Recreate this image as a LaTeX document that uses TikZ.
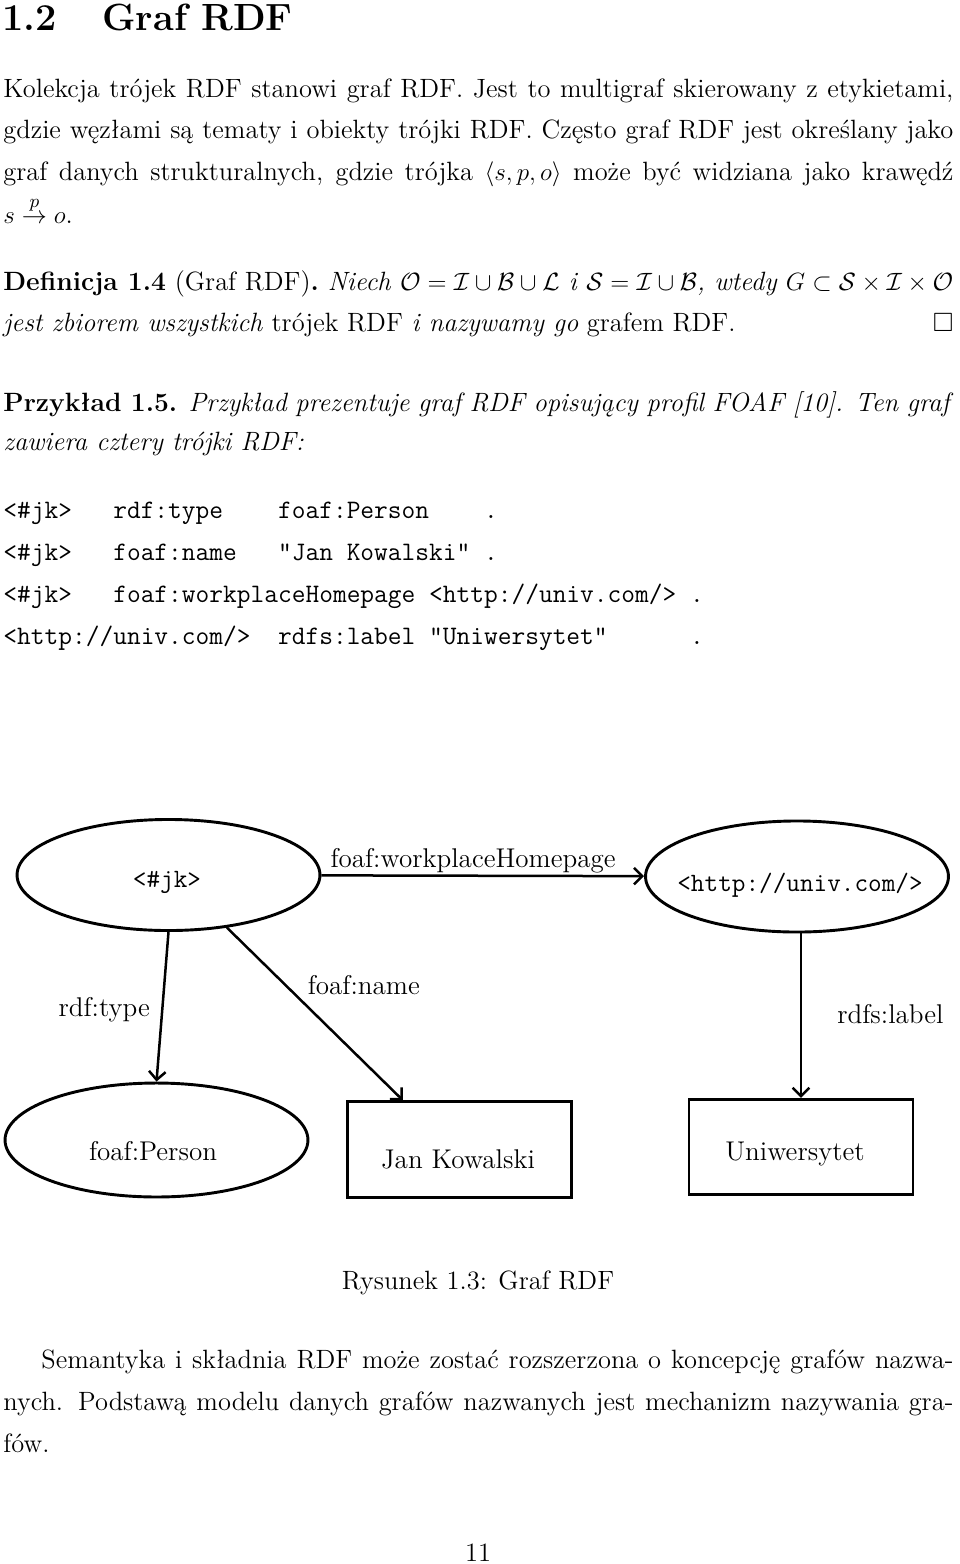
\documentclass[tikz,border=0pt]{standalone}
\usepackage{fontspec}
\usepackage{amssymb}
\usetikzlibrary{shapes.geometric,arrows.meta}

% one justified line of the text block
\newcommand{\jline}[1]{\makebox[456pt][s]{#1}}

\tikzset{
	txt/.style={anchor=base west, inner sep=0pt},
	ctr/.style={anchor=base, inner sep=0pt},
	code/.style={txt, font=\fontsize{12.8}{15}\selectfont\ttfamily},
	uri/.style={font=\fontsize{12.7}{15}\selectfont\ttfamily},
	lab/.style={font=\fontsize{13}{15}\selectfont},
	res/.style={ellipse, draw, line width=1.4pt, minimum width=145.4pt, minimum height=53.3pt, inner sep=0pt},
	lit/.style={rectangle, draw, line width=1.4pt, minimum width=107.5pt, minimum height=45.8pt, inner sep=0pt},
	pred/.style={-{Straight Barb[length=4pt,width=8pt]}, line width=1.2pt},
}

\begin{document}
\begin{tikzpicture}[x=0.48pt,y=-0.48pt,font=\fontsize{12.7}{15.3}\selectfont]
	\path[fill=white] (0,0) rectangle (960,1564);
	
	% heading
	\node[txt, font=\fontsize{18.2}{22}\selectfont\bfseries] (secN) at (2,30) {1.2};
	\node[txt, font=\fontsize{18.2}{22}\selectfont\bfseries] (secT) at (102,30) {Graf RDF};
	
	% first paragraph
	\node[txt] (kol1) at (3,97) {\jline{Kolekcja trójek RDF stanowi graf RDF. Jest to multigraf skierowany z etykietami,}};
	\node[txt] (kol2) at (3,138) {\jline{gdzie węzłami są tematy i obiekty trójki RDF. Często graf RDF jest określany jako}};
	\node[txt] (kol3) at (3,180) {\jline{graf danych strukturalnych, gdzie trójka $\langle s, p, o\rangle$ może być widziana jako krawędź}};
	\node[txt] (kol4) at (3,223) {\smash{$s \stackrel{p}{\to} o$.}};
	
	% definition
	\node[txt] (def1) at (3,290) {\jline{\textbf{Definicja 1.4} (Graf RDF)\textbf{.} \textit{Niech $\mathcal{O} = \mathcal{I} \cup \mathcal{B} \cup \mathcal{L}$ i $\mathcal{S} = \mathcal{I}\cup\mathcal{B}$, wtedy $G \subset \mathcal{S}\times\mathcal{I}\times\mathcal{O}$}}};
	\node[txt] (def2) at (3,331) {\jline{\textit{jest zbiorem wszystkich} trójek RDF \textit{i nazywamy go} grafem RDF.\hfill$\square$}};
	
	% example
	\node[txt] (ex1) at (3,411) {\jline{\textbf{Przykład 1.5.} \textit{Przykład prezentuje graf RDF opisujący profil FOAF [10]. Ten graf}}};
	\node[txt] (ex2) at (3,450) {\textit{zawiera cztery trójki RDF:}};
	
	% triples
	\node[code] (tr1) at (3,518) {<\#jk>\ \ \ rdf:type\ \ \ \ foaf:Person\ \ \ \ .};
	\node[code] (tr2) at (3,560) {<\#jk>\ \ \ foaf:name\ \ \ "Jan Kowalski"\ .};
	\node[code] (tr3) at (3,602) {<\#jk>\ \ \ foaf:workplaceHomepage\ <http://univ.com/>\ .};
	\node[code] (tr4) at (3,644) {<http://univ.com/>\ \ rdfs:label\ "Uniwersytet"\ \ \ \ \ \ .};
	
	% graph
	\node[res] (jk) at (168.5,875) {};
	\node[res] (univ) at (797,876.5) {};
	\node[res, minimum height=54.7pt] (person) at (156.5,1140) {};
	\node[lit] (jan) at (459.5,1149.5) {};
	\node[lit] (uniw) at (801,1147) {};
	
	\node[uri] (jkT) at (167,882) {<\#jk>};
	\node[uri] (univT) at (800,885) {<http://univ.com/>};
	\node[lab] (personT) at (153,1151) {foaf:Person};
	\node[lab] (janT) at (458,1159) {Jan Kowalski};
	\node[lab] (uniwT) at (795,1154) {Uniwersytet};
	
	\draw[pred] (jk) -- (univ) node[pos=.47, above, inner sep=0.5pt, lab] {foaf:workplaceHomepage};
	\draw[pred] (jk.south) -- (person.north) node[pos=.52, left=2pt, lab] {rdf:type};
	\draw[pred] (jk.-42) -- (jan.139) node[pos=.33, right=7pt, lab] {foaf:name};
	\draw[pred] (uniw.north |- univ.south) -- (uniw.north) node[pos=.49, right=13.5pt, lab] {rdfs:label};
	
	\node[ctr] (cap) at (478,1289) {Rysunek 1.3: Graf RDF};
	
	% last paragraph
	\node[txt] (sem1) at (41,1368) {\makebox[437.8pt][s]{Semantyka i składnia RDF może zostać rozszerzona o koncepcję grafów nazwa-}};
	\node[txt] (sem2) at (3,1410) {\jline{nych. Podstawą modelu danych grafów nazwanych jest mechanizm nazywania gra-}};
	\node[txt] (sem3) at (3,1452) {fów.};
	
	\node[ctr] (pg) at (478,1561) {11};
\end{tikzpicture}
\end{document}
